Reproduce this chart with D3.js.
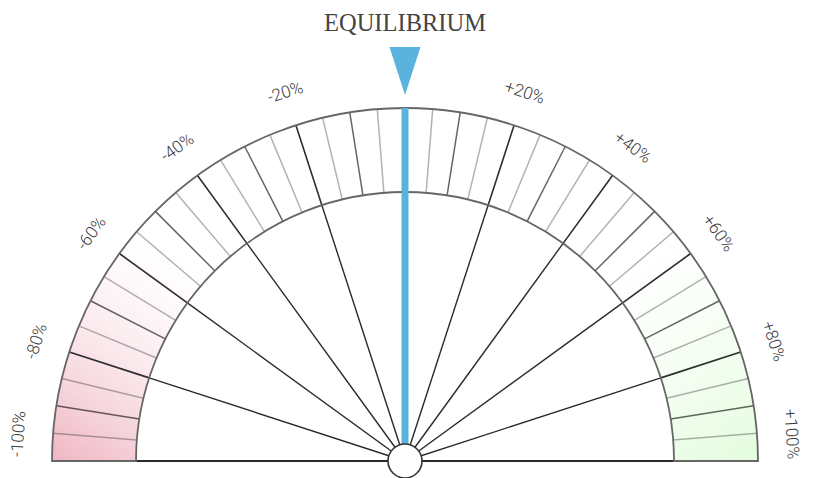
<!DOCTYPE html>
<html>
<head>
<meta charset="utf-8">
<script src="https://cdn.jsdelivr.net/npm/d3@7"></script>
<style>
  body { margin: 0; background: #fff; }
  svg { display: block; }
</style>
</head>
<body>
<div class="chart"></div>
<script>
var svgWidth = 813;
var svgHeight = 478;

// gauge data
var needleValue = 0;
var needleLabel = "EQUILIBRIUM";
var labelValues = [-100, -80, -60, -40, -20, 20, 40, 60, 80, 100];
var labelTexts = ["-100%", "-80%", "-60%", "-40%", "-20%", "+20%", "+40%", "+60%", "+80%", "+100%"];
var spokeValues = [-100, -80, -60, -40, -20, 20, 40, 60, 80, 100];
var tickValues = d3.range(-95, 100, 5);

var cx = 405, cy = 461;
var outerR = 353, innerR = 269, labelR = 388;

var svg = d3.select(".chart")
  .append("svg")
  .attr("width", svgWidth)
  .attr("height", svgHeight);

var angle = d3.scaleLinear().domain([-100, 100]).range([-90, 90]);
var rad = d => angle(d) * Math.PI / 180;

var defs = svg.append("defs");
// pink fades toward the upper right, green toward the upper left
var redGrad = defs.append("linearGradient")
  .attr("id", "redFill")
  .attr("gradientUnits", "userSpaceOnUse")
  .attr("x1", -353).attr("y1", 0)
  .attr("x2", -215).attr("y2", -200);
redGrad.append("stop").attr("offset", "0%").attr("stop-color", "#efb5c2").attr("stop-opacity", 1);
redGrad.append("stop").attr("offset", "100%").attr("stop-color", "#fbe8ec").attr("stop-opacity", 0);

var greenGrad = defs.append("linearGradient")
  .attr("id", "greenFill")
  .attr("gradientUnits", "userSpaceOnUse")
  .attr("x1", 353).attr("y1", 0)
  .attr("x2", 215).attr("y2", -200);
greenGrad.append("stop").attr("offset", "0%").attr("stop-color", "#e3fcdd").attr("stop-opacity", 1);
greenGrad.append("stop").attr("offset", "100%").attr("stop-color", "#f3fef0").attr("stop-opacity", 0);

var g = svg.append("g").attr("transform", `translate(${cx}, ${cy})`);

var arc = d3.arc()
  .innerRadius(innerR)
  .outerRadius(outerR)
  .startAngle(rad(-100))
  .endAngle(rad(100));

g.append("path").attr("d", arc()).attr("fill", "#fff");
g.append("path").attr("d", arc()).attr("fill", "url(#redFill)");
g.append("path").attr("d", arc()).attr("fill", "url(#greenFill)");

// ticks in the band
g.selectAll(".tick")
  .data(tickValues.filter(d => d !== needleValue))
  .enter()
  .append("line")
  .attr("x1", d => innerR * Math.sin(rad(d)))
  .attr("y1", d => -innerR * Math.cos(rad(d)))
  .attr("x2", d => outerR * Math.sin(rad(d)))
  .attr("y2", d => -outerR * Math.cos(rad(d)))
  .attr("stroke", d => d % 20 === 0 ? "#222" : "#000")
  .attr("stroke-opacity", d => d % 20 === 0 ? 0.95 : (d % 10 === 0 ? 0.6 : 0.3))
  .attr("stroke-width", d => d % 20 === 0 ? 1.6 : 1.5);

// spokes from the hub
g.selectAll(".spoke")
  .data(spokeValues)
  .enter()
  .append("line")
  .attr("x1", 0)
  .attr("y1", 0)
  .attr("x2", d => innerR * Math.sin(rad(d)))
  .attr("y2", d => -innerR * Math.cos(rad(d)))
  .attr("stroke", "#2a2a2a")
  .attr("stroke-width", d => Math.abs(d) === 100 ? 2 : 1.4);

// band outline
g.append("path")
  .attr("d", arc())
  .attr("fill", "none")
  .attr("stroke", "#666")
  .attr("stroke-width", 1.8);

// needle
g.append("line")
  .attr("x1", 0)
  .attr("y1", 0)
  .attr("x2", outerR * Math.sin(rad(needleValue)))
  .attr("y2", -outerR * Math.cos(rad(needleValue)))
  .attr("stroke", "#5ab3dd")
  .attr("stroke-width", 7);

// hub
g.append("circle")
  .attr("r", 17)
  .attr("fill", "#fff")
  .attr("stroke", "#333")
  .attr("stroke-width", 1.6);

// marker triangle
var markerTop = -414, markerTip = -366, markerHalf = 15.5;
g.append("path")
  .attr("d", `M${-markerHalf},${markerTop}L${markerHalf},${markerTop}L0,${markerTip}Z`)
  .attr("fill", "#5ab3dd")
  .attr("transform", `rotate(${angle(needleValue)})`);

svg.append("text")
  .attr("x", cx)
  .attr("y", 31)
  .attr("text-anchor", "middle")
  .attr("font-family", "'Liberation Serif', 'DejaVu Serif', serif")
  .attr("font-size", 24.5)
  .attr("fill", "#444")
  .text(needleLabel);

// tick labels along the arc; the end labels are nudged inward to stay on the page
var endNudge = 4;
g.selectAll(".label")
  .data(labelValues)
  .enter()
  .append("text")
  .attr("transform", function(d) {
    var a = angle(d);
    if (d === -100) a += endNudge;
    if (d === 100) a -= endNudge;
    var r = a * Math.PI / 180;
    return `translate(${labelR * Math.sin(r)}, ${-labelR * Math.cos(r)}) rotate(${a})`;
  })
  .attr("text-anchor", "middle")
  .attr("dy", "0.35em")
  .attr("font-family", "Roboto, sans-serif")
  .attr("font-weight", 300)
  .attr("font-size", 17)
  .attr("fill", "#3a3a3a")
  .text((d, i) => labelTexts[i]);
</script>
</body>
</html>
